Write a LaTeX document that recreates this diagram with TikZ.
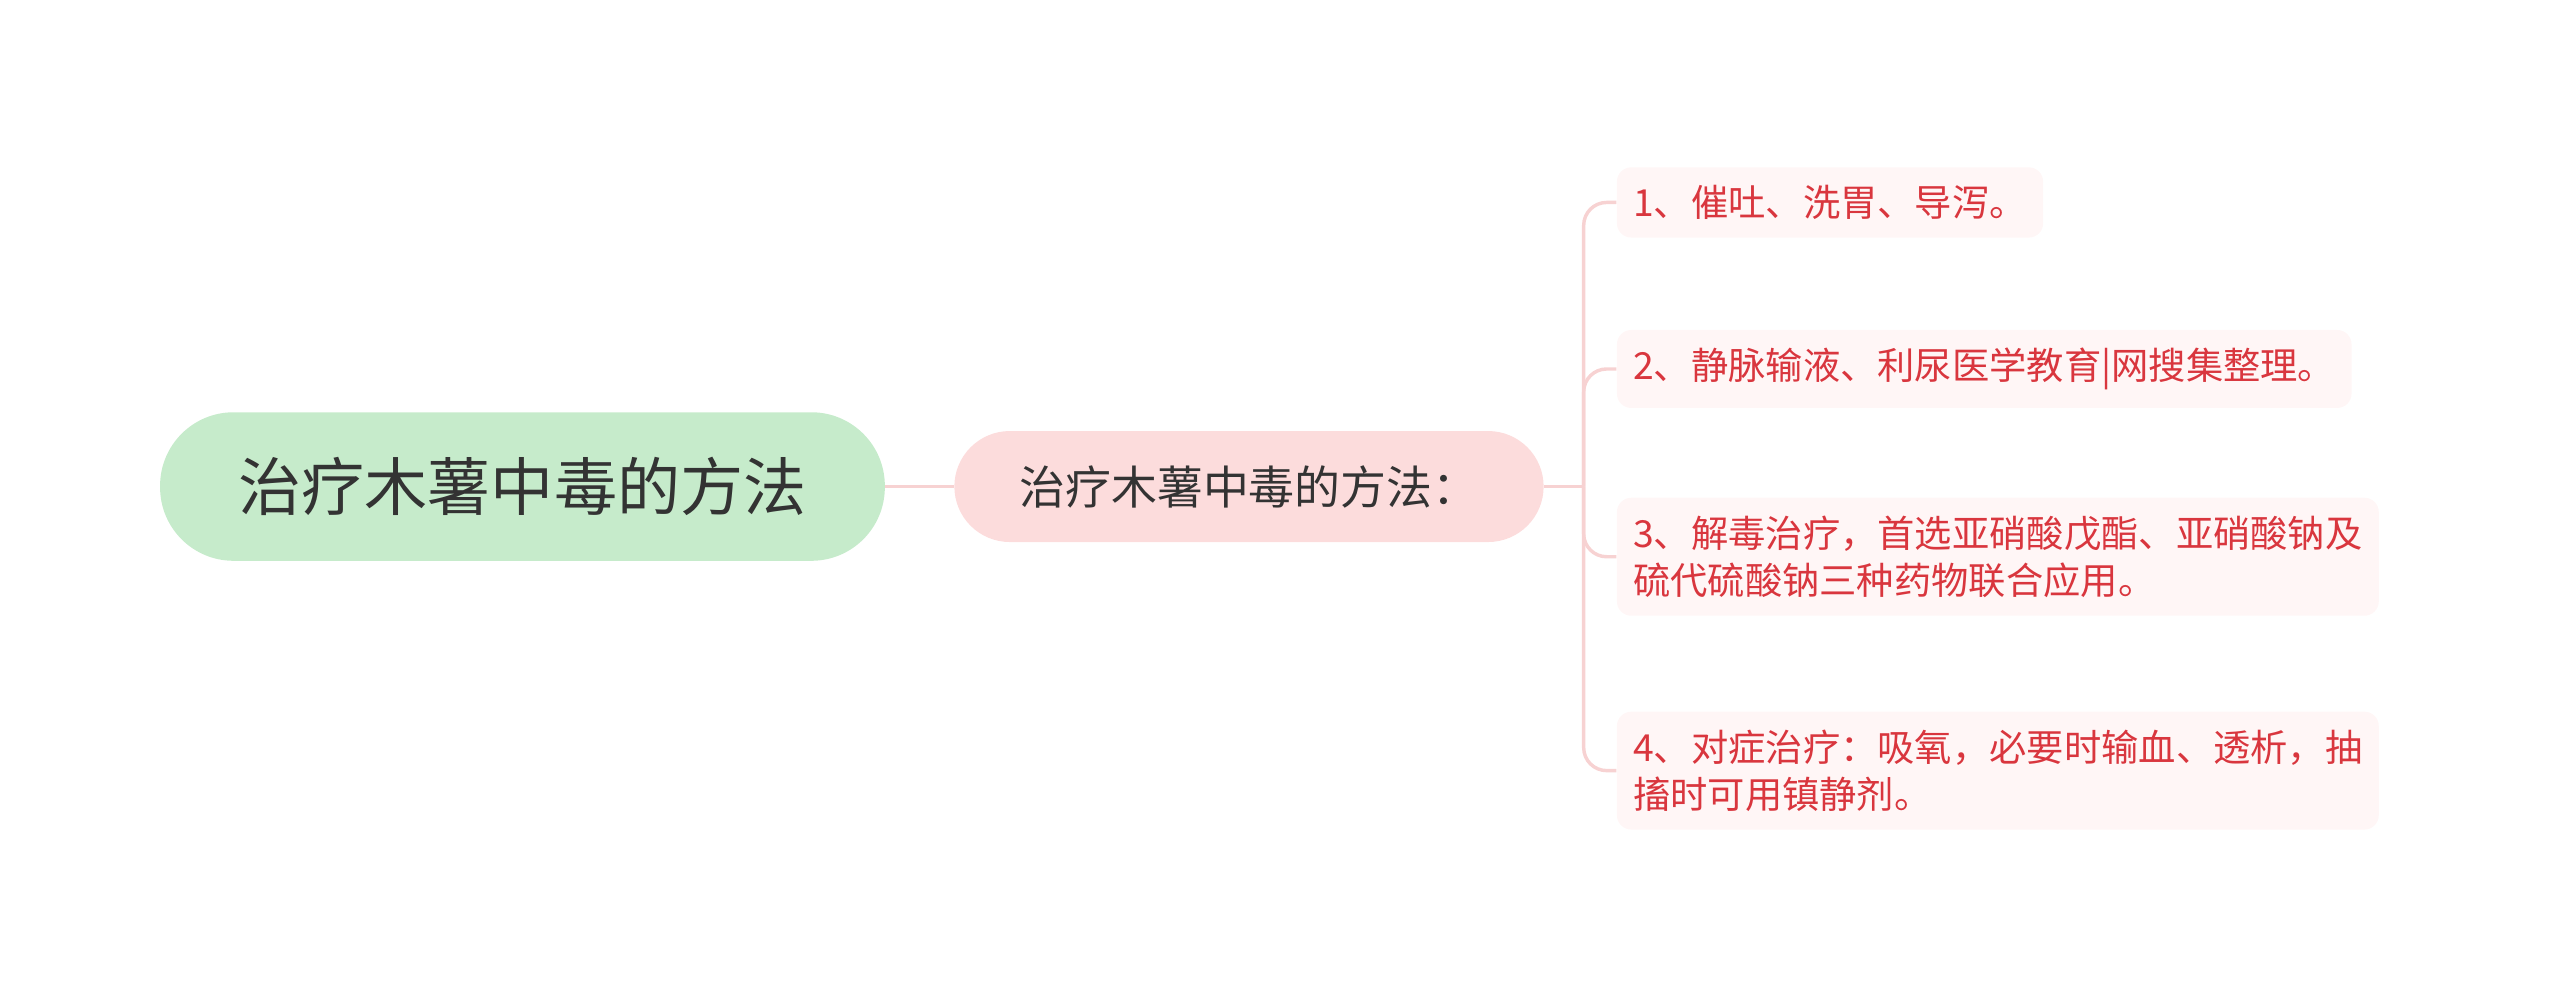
\documentclass[tikz,border=0pt]{standalone}
\usepackage{fontspec}
\setmainfont{Noto Sans CJK SC}
\usetikzlibrary{positioning}
\definecolor{rootfill}{HTML}{C6EBCB}
\definecolor{midfill}{HTML}{FCDCDC}
\definecolor{leaffill}{HTML}{FFF6F6}
\definecolor{leaftext}{HTML}{D9363E}
\definecolor{linkcol}{HTML}{F7D2D2}
\tikzstyle{root} = [rounded corners=0.9cm,fill=rootfill,minimum width=8.88cm,minimum height=1.82cm,font=\fontsize{22}{26}\selectfont,text=black!80]
\tikzstyle{topic} = [rounded corners=0.68cm,fill=midfill,minimum width=7.22cm,minimum height=1.36cm,font=\fontsize{16}{19}\selectfont,text=black!80]
\tikzstyle{leaf} = [rounded corners=5pt,fill=leaffill,anchor=west,inner xsep=0.2cm,inner ysep=0.22cm,align=left,font=\fontsize{13}{16.5}\selectfont,text=leaftext]
\tikzstyle{link} = [draw,linkcol,line width=1.2pt]
\begin{document}
\begin{tikzpicture}[x=0.02cm,y=-0.02cm]
     \useasboundingbox (0,0) rectangle (1568,611);
     % main nodes
     \node[root] (root) at (320,298) {治疗木薯中毒的方法};
     \node[topic] (mid) at (765,298) {治疗木薯中毒的方法：};
     \path[link] (root) -- (mid);
     % the four points
     \node[leaf] (c1) at (990,124) {1、催吐、洗胃、导泻。};
     \node[leaf] (c2) at (990,226) {2、静脉输液、利尿医学教育|网搜集整理。};
     \node[leaf] (c3) at (990,341) {3、解毒治疗，首选亚硝酸戊酯、亚硝酸钠及\\硫代硫酸钠三种药物联合应用。};
     \node[leaf] (c4) at (990,472) {4、对症治疗：吸氧，必要时输血、透析，抽\\搐时可用镇静剂。};
     \coordinate (fork) at (970,298);
     \path[link] (mid) -- (fork);
     \foreach \leafname in {c1,c2,c3,c4}
     \path[link,rounded corners=8pt] (fork) |- (\leafname.west);
\end{tikzpicture}
\end{document}
